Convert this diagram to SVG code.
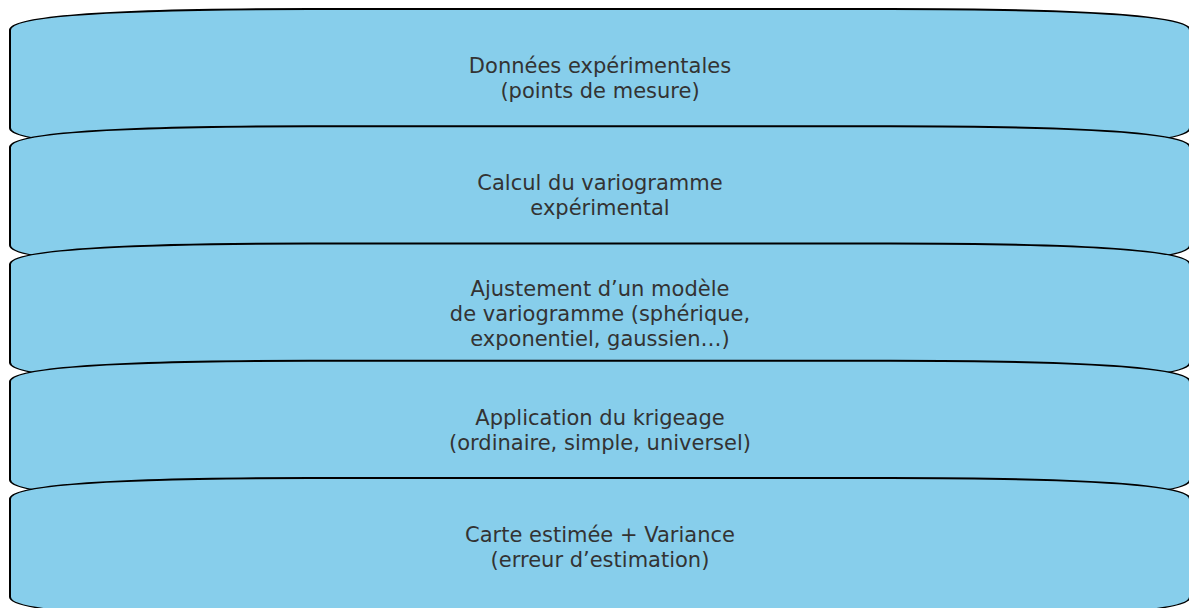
<svg xmlns="http://www.w3.org/2000/svg" width="1189" height="608" viewBox="0 0 1189 608">
<style>
.box{fill:#87CEEB;stroke:#000;stroke-width:2}
.lbl{font-family:"DejaVu Sans",sans-serif;font-size:21px;fill:#333;text-anchor:middle;dominant-baseline:central}
</style>
<defs>
<path id="shape" d="M10,30 Q10,9 310,9 L890,9 Q1190,9 1190,30 L1190,128 Q1190,149 890,149 L310,149 Q10,149 10,128 Z"/>
</defs>
<rect width="1189" height="608" fill="#fff"/>
<g id="connectors"></g>
<g id="n1">
<use href="#shape" class="box"/>
<text class="lbl" x="600" y="66">Données expérimentales</text>
<text class="lbl" x="600" y="91">(points de mesure)</text>
</g>
<g id="n2" transform="translate(0,117.25)">
<use href="#shape" class="box"/>
<text class="lbl" x="600" y="66">Calcul du variogramme</text>
<text class="lbl" x="600" y="91">expérimental</text>
</g>
<g id="n3" transform="translate(0,234.5)">
<use href="#shape" class="box"/>
<text class="lbl" x="600" y="54">Ajustement d’un modèle</text>
<text class="lbl" x="600" y="79">de variogramme (sphérique,</text>
<text class="lbl" x="600" y="104">exponentiel, gaussien…)</text>
</g>
<g id="n4" transform="translate(0,351.75)">
<use href="#shape" class="box"/>
<text class="lbl" x="600" y="66">Application du krigeage</text>
<text class="lbl" x="600" y="91">(ordinaire, simple, universel)</text>
</g>
<g id="n5" transform="translate(0,469)">
<use href="#shape" class="box"/>
<text class="lbl" x="600" y="66">Carte estimée + Variance</text>
<text class="lbl" x="600" y="91">(erreur d’estimation)</text>
</g>
</svg>
